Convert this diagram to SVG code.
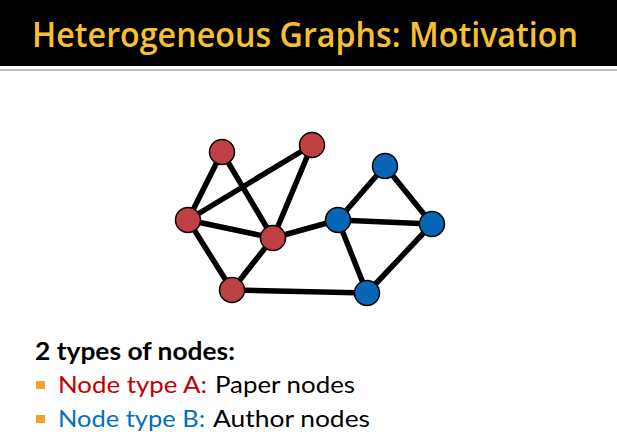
<svg xmlns="http://www.w3.org/2000/svg" width="617" height="443" viewBox="0 0 617 443">
<style>
.title{font-family:"Open Sans","Liberation Sans",sans-serif;font-size:34px;font-weight:600;fill:#F7C02E}
.body{font-family:Lato,"Open Sans","Liberation Sans",sans-serif;font-size:24px;fill:#000}
.bold{font-weight:bold}
.ra{fill:#C00000}
.bb{fill:#0070C0}
.edge{stroke:#000;stroke-width:5.5;stroke-linecap:round}
.paper{fill:#BE4044;stroke:#000;stroke-width:1.5}
.author{fill:#0866B4;stroke:#000;stroke-width:1.5}
.bullet{fill:#F0A22E}
</style>
<rect width="617" height="443" fill="#fff"/>
<rect x="0" y="0" width="617" height="66" fill="#000"/>
<rect x="0" y="69" width="617" height="2" fill="#BDBDBD"/>
<text class="title" x="32" y="47" textLength="546" lengthAdjust="spacingAndGlyphs">Heterogeneous Graphs: Motivation</text>
<g id="connectors">
<line class="edge" x1="222" y1="152" x2="188" y2="220"/>
<line class="edge" x1="222" y1="152" x2="273" y2="238"/>
<line class="edge" x1="188" y1="220" x2="312" y2="145"/>
<line class="edge" x1="312" y1="145" x2="273" y2="238"/>
<line class="edge" x1="188" y1="220" x2="273" y2="238"/>
<line class="edge" x1="188" y1="220" x2="232" y2="290"/>
<line class="edge" x1="232" y1="290" x2="273" y2="238"/>
<line class="edge" x1="273" y1="238" x2="338" y2="220"/>
<line class="edge" x1="232" y1="290" x2="367" y2="293"/>
<line class="edge" x1="338" y1="220" x2="385" y2="166"/>
<line class="edge" x1="385" y1="166" x2="432" y2="224"/>
<line class="edge" x1="338" y1="220" x2="432" y2="224"/>
<line class="edge" x1="338" y1="220" x2="367" y2="293"/>
<line class="edge" x1="367" y1="293" x2="432" y2="224"/>
</g>
<g id="paper1"><circle class="paper" cx="222" cy="152" r="12.5"/></g>
<g id="paper2"><circle class="paper" cx="312" cy="145" r="12.5"/></g>
<g id="paper3"><circle class="paper" cx="188" cy="220" r="12.5"/></g>
<g id="paper4"><circle class="paper" cx="273" cy="238" r="12.5"/></g>
<g id="paper5"><circle class="paper" cx="232" cy="290" r="12.5"/></g>
<g id="author1"><circle class="author" cx="385" cy="166" r="12.5"/></g>
<g id="author2"><circle class="author" cx="338" cy="220" r="12.5"/></g>
<g id="author3"><circle class="author" cx="432" cy="224" r="12.5"/></g>
<g id="author4"><circle class="author" cx="367" cy="293" r="12.5"/></g>
<text class="body bold" x="35" y="360" textLength="200" lengthAdjust="spacingAndGlyphs">2 types of nodes:</text>
<rect class="bullet" x="36" y="381" width="9" height="8"/>
<text class="body ra" x="58" y="393" textLength="149" lengthAdjust="spacingAndGlyphs">Node type A:</text>
<text class="body" x="215" y="393" textLength="140" lengthAdjust="spacingAndGlyphs">Paper nodes</text>
<rect class="bullet" x="36" y="415" width="9" height="8"/>
<text class="body bb" x="58" y="427" textLength="147" lengthAdjust="spacingAndGlyphs">Node type B:</text>
<text class="body" x="213" y="427" textLength="157" lengthAdjust="spacingAndGlyphs">Author nodes</text>
</svg>
